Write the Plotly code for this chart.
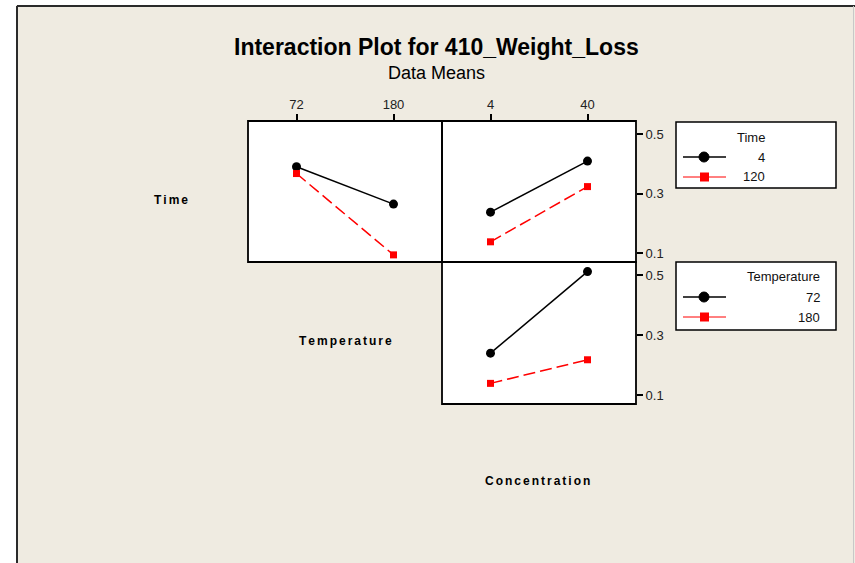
import plotly.graph_objects as go

# factor levels
temperature_levels = ["72", "180"]
concentration_levels = ["4", "40"]
time_levels = ["4", "120"]

# data means of 410_Weight_Loss
time4_by_temperature = [0.391, 0.265]
time120_by_temperature = [0.368, 0.094]
time4_by_concentration = [0.238, 0.410]
time120_by_concentration = [0.138, 0.324]
temp72_by_concentration = [0.240, 0.513]
temp180_by_concentration = [0.139, 0.218]

y_ticks = [0.1, 0.3, 0.5]

W, H = 855, 563
FONT = "Liberation Sans, Arial, sans-serif"
BG = "#EFEBE1"


def px(x):
    return x / W


def py(y):
    return 1 - y / H


black_style = dict(mode="lines+markers", line=dict(color="black", width=1.5),
                   marker=dict(symbol="circle", size=9, color="black"))
red_style = dict(mode="lines+markers", line=dict(color="#FF0000", width=1.5, dash="12px,5px"),
                 marker=dict(symbol="square", size=7, color="#FF0000"))

fig = go.Figure()
fig.add_trace(go.Scatter(x=temperature_levels, y=time4_by_temperature, xaxis="x", yaxis="y", **black_style))
fig.add_trace(go.Scatter(x=temperature_levels, y=time120_by_temperature, xaxis="x", yaxis="y", **red_style))
fig.add_trace(go.Scatter(x=concentration_levels, y=time4_by_concentration, xaxis="x2", yaxis="y2", **black_style))
fig.add_trace(go.Scatter(x=concentration_levels, y=time120_by_concentration, xaxis="x2", yaxis="y2", **red_style))
fig.add_trace(go.Scatter(x=concentration_levels, y=temp72_by_concentration, xaxis="x3", yaxis="y3", **black_style))
fig.add_trace(go.Scatter(x=concentration_levels, y=temp180_by_concentration, xaxis="x3", yaxis="y3", **red_style))

axis = dict(showline=False, showgrid=False, zeroline=False, fixedrange=True,
            tickfont=dict(family=FONT, size=13, color="#222"), tickcolor="black", tickwidth=1.5)

col1 = [px(248), px(442)]
col2 = [px(442), px(636)]
row0 = [py(262), py(121)]
row1 = [py(404), py(262)]
yrange = [0.07, 0.545]
ytext = [f"{v:.1f}" for v in y_ticks]

fig.update_layout(
    xaxis=dict(axis, type="category", range=[-0.5, 1.5], domain=col1, anchor="y",
               side="top", ticks="outside", ticklen=6),
    xaxis2=dict(axis, type="category", range=[-0.5, 1.5], domain=col2, anchor="y2",
                side="top", ticks="outside", ticklen=6),
    xaxis3=dict(axis, type="category", range=[-0.5, 1.5], domain=col2, anchor="y3",
                showticklabels=False, ticks=""),
    yaxis=dict(axis, range=yrange, domain=row0, anchor="x", showticklabels=False, ticks=""),
    yaxis2=dict(axis, range=yrange, domain=row0, anchor="x2", side="right",
                ticks="outside", ticklen=6, tickvals=y_ticks, ticktext=ytext),
    yaxis3=dict(axis, range=yrange, domain=row1, anchor="x3", side="right",
                ticks="outside", ticklen=6, tickvals=y_ticks, ticktext=ytext),
)

shapes = [
    # white strips outside the graph frame
    dict(type="rect", xref="paper", yref="paper", x0=0, x1=px(16), y0=0, y1=1,
         fillcolor="white", line=dict(width=0)),
    dict(type="rect", xref="paper", yref="paper", x0=0, x1=1, y0=py(5), y1=1,
         fillcolor="white", line=dict(width=0)),
    dict(type="line", xref="paper", yref="paper", x0=px(17), x1=px(855), y0=py(6), y1=py(6),
         line=dict(color="#2a2a2a", width=2)),
    dict(type="line", xref="paper", yref="paper", x0=px(17), x1=px(17), y0=py(6), y1=0,
         line=dict(color="#2a2a2a", width=2)),
    dict(type="line", xref="paper", yref="paper", x0=px(853.5), x1=px(853.5), y0=py(6), y1=0,
         line=dict(color="#c8c8c8", width=1)),
]

# panel frames, drawn centred on the shared edges
for xa, ya in [("x", "y"), ("x2", "y2"), ("x3", "y3")]:
    shapes.append(dict(type="rect", xref=xa + " domain", yref=ya + " domain", x0=0, x1=1, y0=0, y1=1,
                       line=dict(color="black", width=1.8)))

annotations = [
    dict(text="<b>Interaction Plot for 410_Weight_Loss</b>", x=px(437), y=py(47),
         font=dict(family=FONT, size=23, color="black")),
    dict(text="Data Means", x=px(437), y=py(73), font=dict(family=FONT, size=18, color="black")),
]

# diagonal factor labels (letter-spaced)
gap = "\u2006"
for name, cx, cy in [("Time", 152, 200), ("Temperature", 345, 341), ("Concentration", 537, 481)]:
    annotations.append(dict(text="<b>" + gap.join(name) + "</b>", x=px(cx), y=py(cy),
                            font=dict(family=FONT, size=12, color="black")))


def add_legend(title, levels, top, bottom, text_right):
    shapes.append(dict(type="rect", xref="paper", yref="paper", x0=px(676), x1=px(836),
                       y0=py(bottom), y1=py(top), fillcolor="white",
                       line=dict(color="black", width=1.5)))
    annotations.append(dict(text=title, x=px(text_right), y=py(top + 15), xanchor="right",
                            font=dict(family=FONT, size=13, color="#111")))
    for i, (level, col) in enumerate(zip(levels, ["black", "#FF0000"])):
        yc = top + 35 + 20 * i
        shapes.append(dict(type="line", xref="paper", yref="paper", x0=px(683), x1=px(726),
                           y0=py(yc), y1=py(yc), line=dict(color=col, width=1.5 if i == 0 else 1)))
        if i == 0:
            shapes.append(dict(type="circle", xref="paper", yref="paper", x0=px(699), x1=px(709),
                               y0=py(yc + 5), y1=py(yc - 5), fillcolor=col, line=dict(color=col, width=1)))
        else:
            shapes.append(dict(type="rect", xref="paper", yref="paper", x0=px(700), x1=px(709),
                               y0=py(yc + 4.5), y1=py(yc - 4.5), fillcolor=col, line=dict(color=col, width=0)))
        annotations.append(dict(text=level, x=px(text_right), y=py(yc), xanchor="right",
                                font=dict(family=FONT, size=13, color="#111")))


add_legend("Time", time_levels, 122, 188, 767)
add_legend("Temperature", temperature_levels, 262, 330, 822)

for a in annotations:
    a.setdefault("xref", "paper")
    a.setdefault("yref", "paper")
    a.setdefault("showarrow", False)
    a.setdefault("yanchor", "middle")

fig.update_layout(
    width=W, height=H,
    margin=dict(l=0, r=0, t=0, b=0),
    paper_bgcolor=BG, plot_bgcolor="white",
    showlegend=False,
    shapes=shapes, annotations=annotations,
)

# drop the browser's default page margin so the figure sits at the window origin
fig.write_html("out.html", config={"displayModeBar": False},
               post_script="document.body.style.margin = '0';")
